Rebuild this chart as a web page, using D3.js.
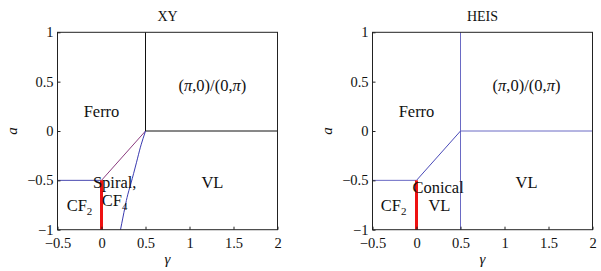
<!DOCTYPE html>
<html>
<head>
<meta charset="utf-8">
<script src="https://cdn.jsdelivr.net/npm/d3@7"></script>
<style>
body { margin: 0; background: #fff; }
svg text { font-family: "Liberation Serif", "Times New Roman", serif !important; fill: #111; }
</style>
</head>
<body>
<div id="chart"></div>
<script>
// axis ticks
var xTicks = [-0.5, 0, 0.5, 1, 1.5, 2];
var yTicks = [-1, -0.5, 0, 0.5, 1];

// XY phase boundaries (gamma, a)
var xyFerroVL = [[0, -0.5], [0.5, 0]];
var xyCF2Top = [[-0.5, -0.5], [0, -0.5]];
var xySpiralVL = [[0.5, 0], [0.45, -0.14], [0.41, -0.275], [0.35, -0.48], [0.3, -0.64], [0.265, -0.78], [0.216, -1]];
var xyPiVert = [[0.5, 0], [0.5, 1]];
var xyPiHoriz = [[0.5, 0], [2, 0]];
var redLine = [[0, -0.5], [0, -1]];

// HEIS phase boundaries
var heisVert = [[0.5, -1], [0.5, 1]];
var heisHoriz = [[0.5, 0], [2, 0]];
var heisDiag = [[0, -0.5], [0.5, 0]];
var heisCF2Top = [[-0.5, -0.5], [0, -0.5]];

// region labels: text, gamma, a (baseline)
var xyLabels = [
  {t: "Ferro", g: 0, a: 0.145},
  {t: "(π,0)/(0,π)", g: 1.26, a: 0.41},
  {t: "VL", g: 1.26, a: -0.575},
  {t: "CF", sub: "2", g: -0.25, a: -0.815},
  {t: "Spiral,", g: 0.15, a: -0.573},
  {t: "CF", sub: "4", g: 0.15, a: -0.76}
];
var heisLabels = [
  {t: "Ferro", g: 0, a: 0.145},
  {t: "(π,0)/(0,π)", g: 1.25, a: 0.41},
  {t: "VL", g: 1.25, a: -0.575},
  {t: "Conical", g: 0.245, a: -0.63},
  {t: "VL", g: 0.26, a: -0.81},
  {t: "CF", sub: "2", g: -0.26, a: -0.81}
];

var svg = d3.select("#chart").append("svg")
  .attr("width", 601)
  .attr("height", 271)
  .attr("font-family", "Liberation Serif, serif");

function fmt(v) {
  var s = String(v);
  return v < 0 ? "\u2212" + s.slice(1) : s;
}

function panel(opts) {
  var x = d3.scaleLinear().domain([-0.5, 2]).range([opts.left, opts.left + 220]);
  var y = d3.scaleLinear().domain([-1, 1]).range([229.7, 32.3]);
  var g = svg.append("g");
  var line = d3.line().x(d => x(d[0])).y(d => y(d[1]));

  // boundaries
  opts.lines.forEach(function(l) {
    g.append("path")
      .attr("d", line.curve(l.curve ? d3.curveNatural : d3.curveLinear)(l.data))
      .attr("fill", "none")
      .attr("stroke", l.color)
      .attr("stroke-width", l.w || 1);
  });

  // frame
  g.append("rect")
    .attr("x", x(-0.5)).attr("y", y(1))
    .attr("width", x(2) - x(-0.5)).attr("height", y(-1) - y(1))
    .attr("fill", "none").attr("stroke", "#222").attr("stroke-width", 1);

  // axes, ticks inside
  var xa = g.append("g").attr("transform", "translate(0," + y(-1) + ")")
    .call(d3.axisBottom(x).tickValues(xTicks).tickSize(-3).tickPadding(8).tickFormat(fmt));
  var ya = g.append("g").attr("transform", "translate(" + x(-0.5) + ",0)")
    .call(d3.axisLeft(y).tickValues(yTicks).tickSize(-3).tickPadding(4).tickFormat(fmt));
  [xa, ya].forEach(function(a) {
    a.attr("font-family", "Liberation Serif, serif").attr("font-size", 14.5);
    a.select(".domain").remove();
    a.selectAll("line").attr("stroke", "#222");
    a.selectAll("text").attr("fill", "#111");
  });
  xa.selectAll("text").attr("dy", "0.71em");

  // title and axis labels
  g.append("text").attr("x", (x(-0.5) + x(2)) / 2).attr("y", 21)
    .attr("text-anchor", "middle").attr("font-size", 14).text(opts.title);
  g.append("text").attr("x", (x(-0.5) + x(2)) / 2).attr("y", 264)
    .attr("text-anchor", "middle").attr("font-size", 15).attr("font-style", "italic").text("γ");
  g.append("text").attr("transform", "translate(" + (x(-0.5) - 41) + "," + y(0) + ") rotate(-90)")
    .attr("text-anchor", "middle").attr("font-size", 15).attr("font-style", "italic").text("a");

  // region labels
  opts.labels.forEach(function(d) {
    var t = g.append("text").attr("x", x(d.g)).attr("y", y(d.a))
      .attr("text-anchor", "middle").attr("font-size", 16.5);
    d.t.split(/(π)/).forEach(function(p) {
      if (p === "") return;
      var s = t.append("tspan").text(p);
      if (p === "π") s.attr("font-style", "italic");
    });
    if (d.sub) t.append("tspan").attr("font-size", 11).attr("dy", 4).text(d.sub);
  });
}

panel({
  left: 57.5,
  title: "XY",
  lines: [
    {data: xyPiVert, color: "#111"},
    {data: xyPiHoriz, color: "#111"},
    {data: xyCF2Top, color: "#4a4ab0"},
    {data: xyFerroVL, color: "#8a3a7e"},
    {data: xySpiralVL, color: "#3a3ab0", curve: true},
    {data: redLine, color: "#ee1111", w: 3}
  ],
  labels: xyLabels
});

panel({
  left: 372.5,
  title: "HEIS",
  lines: [
    {data: heisVert, color: "#6a6ac4"},
    {data: heisHoriz, color: "#6a6ac4"},
    {data: heisDiag, color: "#4a4ab8"},
    {data: heisCF2Top, color: "#6a6ac4"},
    {data: redLine, color: "#ee1111", w: 3}
  ],
  labels: heisLabels
});
</script>
</body>
</html>
